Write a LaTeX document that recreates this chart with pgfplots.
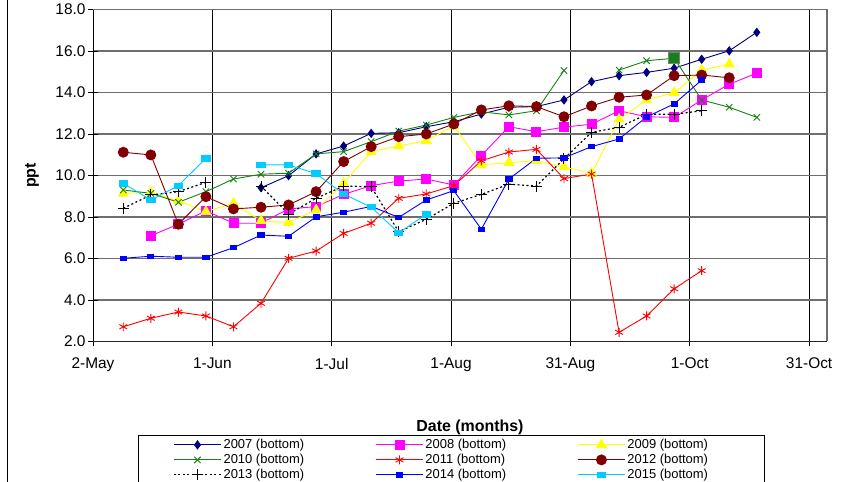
\documentclass[border=0pt]{standalone}
\usepackage{pgfplots}
\pgfplotsset{compat=1.18}
\usepackage{fontspec}
\setmainfont{Liberation Sans}
\definecolor{c07}{RGB}{0,0,128}
\definecolor{c08}{RGB}{255,0,255}
\definecolor{c09}{RGB}{255,255,0}
\definecolor{c10}{RGB}{20,130,20}
\definecolor{c11}{RGB}{255,0,0}
\definecolor{c12}{RGB}{128,0,0}
\definecolor{c13}{RGB}{0,0,0}
\definecolor{c14}{RGB}{0,0,255}
\definecolor{c15}{RGB}{0,204,255}
\definecolor{gridgray}{RGB}{110,110,110}
\newcommand{\lt}[2]{\makebox[#1bp][l]{#2}}
\begin{document}
\begin{tikzpicture}[x=1bp,y=1bp]
\useasboundingbox (0,0) rectangle (851,482);
\draw[black, line width=1bp] (7,0) -- (7,482);
\begin{axis}[
  at={(93bp,140.5bp)}, anchor=south west,
  scale only axis, width=734bp, height=332bp,
  xmin=122.3, xmax=308.85, ymin=2, ymax=18,
  xtick={122.3,152.63,182.97,213.3,243.63,273.97,304.3},
  xticklabels={2-May,1-Jun,1-Jul,1-Aug,31-Aug,1-Oct,31-Oct},
  minor x tick num=4,
  ytick={2,4,...,18},
  yticklabel={\pgfmathprintnumber[fixed,fixed zerofill,precision=1]{\tick}},
  /pgf/number format/assume math mode=true,
  ticklabel style={font=\fontsize{15.5}{17}\selectfont},
  xticklabel style={yshift=-8bp},
  yticklabel style={xshift=1bp},
  axis x line*=bottom, axis y line*=left,
  x axis line style={black!85, line width=1.6bp},
  y axis line style={black, line width=1bp},
  tick align=center,
  major tick length=10bp, minor tick length=4.5bp,
  minor x tick style={yshift=2.25bp},
  every tick/.style={black, line width=0.8bp},
  grid=major,
  major x grid style={black, line width=0.8bp},
  major y grid style={gridgray, line width=1.2bp},
  xlabel={Date (months)}, ylabel={ppt},
  label style={font=\bfseries\fontsize{16}{18}\selectfont},
  xlabel style={at={(axis description cs:0.5136,-0.2575)}, anchor=center},
  ylabel style={at={(axis description cs:-0.0831,0.5)}, anchor=center, rotate=0},
  unbounded coords=jump,
  every axis plot/.append style={line width=0.9bp},
  legend columns=3,
  legend style={at={(axis description cs:0.0613,-0.2816)}, anchor=north west,
    draw=black, line width=0.8bp, inner xsep=35bp, inner ysep=3.5bp,
    font=\fontsize{13}{14}\selectfont, row sep=3bp,
    nodes={inner xsep=2bp, inner ysep=0bp, text height=9.3bp, text depth=2.7bp}},
  legend cell align=left,
  legend image code/.code={\draw[mark repeat=2,mark phase=2] plot coordinates {(0bp,0bp) (23.5bp,0bp) (47bp,0bp)};},
  after end axis/.code={\draw[gridgray, line width=1.2bp] (rel axis cs:0,1) -- (rel axis cs:1,1) -- (rel axis cs:1,0);},
]
% 2007
\addplot[c07, mark=diamond*, mark size=4bp, mark options={solid, fill=c07}] coordinates {
(165,9.41) (172,9.99) (179,11.04) (186,11.42) (193,12.03) (200,12.06) (207,12.35) (214,12.59) (221,12.96) (228,13.29) (235,13.32) (242,13.64) (249,14.52) (256,14.81) (263,14.97) (270,15.17) (277,15.60) (284,16.01) (291,16.90)};
\addlegendentry{\lt{150}{2007 (bottom)}}
% 2008
\addplot[c08, mark=square*, mark size=4.5bp, mark options={solid, fill=c08}] coordinates {
(137,7.10) (144,7.65) (151,8.30) (158,7.70) (165,7.70) (172,8.39) (179,8.50) (186,9.09) (193,9.51) (200,9.73) (207,9.83) (214,9.54) (221,10.96) (228,12.35) (235,12.11) (242,12.33) (249,12.47) (256,13.12) (263,12.83) (270,12.80) (277,13.64) (284,14.40) (291,14.93)};
\addlegendentry{\lt{150}{2008 (bottom)}}
% 2009
\addplot[c09, mark=triangle*, mark size=5.5bp, mark options={solid, fill=c09}] coordinates {
(130,9.14) (137,9.19) (144,8.77) (151,8.26) (158,8.66) (165,7.82) (172,7.73) (179,8.34) (186,9.62) (193,11.15) (200,11.42) (207,11.68) (214,12.39) (221,10.51) (228,10.62) (235,10.71) (242,10.42) (249,10.10) (256,12.71) (263,13.64) (270,13.99) (277,15.08) (284,15.37)};
\addlegendentry{\lt{100}{2009 (bottom)}}
% 2010
\addplot[c10, mark=x, mark size=4.5bp, mark options={solid}] coordinates {
(130,9.30) (137,9.14) (144,8.71) (151,9.22) (158,9.83) (165,10.06) (172,10.11) (179,11.04) (186,11.15) (193,11.63) (200,12.14) (207,12.43) (214,12.80) (221,13.07) (228,12.92) (235,13.12) (242,15.06) (249,nan) (256,15.08) (263,15.53) (270,15.65) (277,13.64) (284,13.29) (291,12.80)};
\addlegendentry{\lt{150}{2010 (bottom)}}
\addplot[forget plot, only marks, mark=square*, mark size=5.5bp, mark options={draw=gray, fill=c10, line width=1bp}] coordinates {(270,15.65)};
% 2011
\addplot[c11, mark=asterisk, mark size=4.5bp, mark options={solid}] coordinates {
(130,2.71) (137,3.12) (144,3.42) (151,3.23) (158,2.71) (165,3.84) (172,6.01) (179,6.36) (186,7.21) (193,7.70) (200,8.90) (207,9.11) (214,9.51) (221,10.71) (228,11.13) (235,11.26) (242,9.85) (249,10.07) (256,2.44) (263,3.23) (270,4.54) (277,5.41)};
\addlegendentry{\lt{150}{2011 (bottom)}}
% 2012
\addplot[c12, mark=*, mark size=5bp, mark options={solid, fill=c12}] coordinates {
(130,11.12) (137,10.99) (144,7.65) (151,8.98) (158,8.39) (165,8.47) (172,8.58) (179,9.22) (186,10.67) (193,11.39) (200,11.87) (207,12.00) (214,12.48) (221,13.16) (228,13.36) (235,13.32) (242,12.83) (249,13.35) (256,13.77) (263,13.88) (270,14.81) (277,14.84) (284,14.71)};
\addlegendentry{\lt{100}{2012 (bottom)}}
% 2013
\addplot[c13, line width=1.2bp, dash pattern=on 2bp off 2.5bp, mark=+, mark size=5.5bp, mark options={solid, line width=1bp}] coordinates {
(130,8.42) (137,9.06) (144,9.22) (151,9.67) (158,nan) (165,9.49) (172,8.14) (179,8.90) (186,9.49) (193,9.46) (200,7.29) (207,7.89) (214,8.66) (221,9.09) (228,9.58) (235,9.49) (242,10.80) (249,12.08) (256,12.32) (263,12.95) (270,12.95) (277,13.12)};
\addlegendentry{\lt{150}{2013 (bottom)}}
% 2014
\addplot[c14, mark=square*, mark size=2.2bp, mark options={solid, fill=c14, xscale=1.4}] coordinates {
(130,6.01) (137,6.11) (144,6.06) (151,6.06) (158,6.52) (165,7.13) (172,7.07) (179,8.01) (186,8.23) (193,8.51) (200,7.98) (207,8.82) (214,9.27) (221,7.41) (228,9.83) (235,10.83) (242,10.85) (249,11.39) (256,11.76) (263,12.82) (270,13.45) (277,14.60)};
\addlegendentry{\lt{150}{2014 (bottom)}}
% 2015
\addplot[c15, mark=square*, mark size=3bp, mark options={solid, fill=c15, xscale=1.4, yscale=0.9}] coordinates {
(130,9.62) (137,8.82) (144,9.51) (151,10.83) (158,nan) (165,10.51) (172,10.51) (179,10.09) (186,9.11) (193,8.47) (200,7.24) (207,8.13)};
\addlegendentry{\lt{100}{2015 (bottom)}}
\end{axis}
\end{tikzpicture}
\end{document}
